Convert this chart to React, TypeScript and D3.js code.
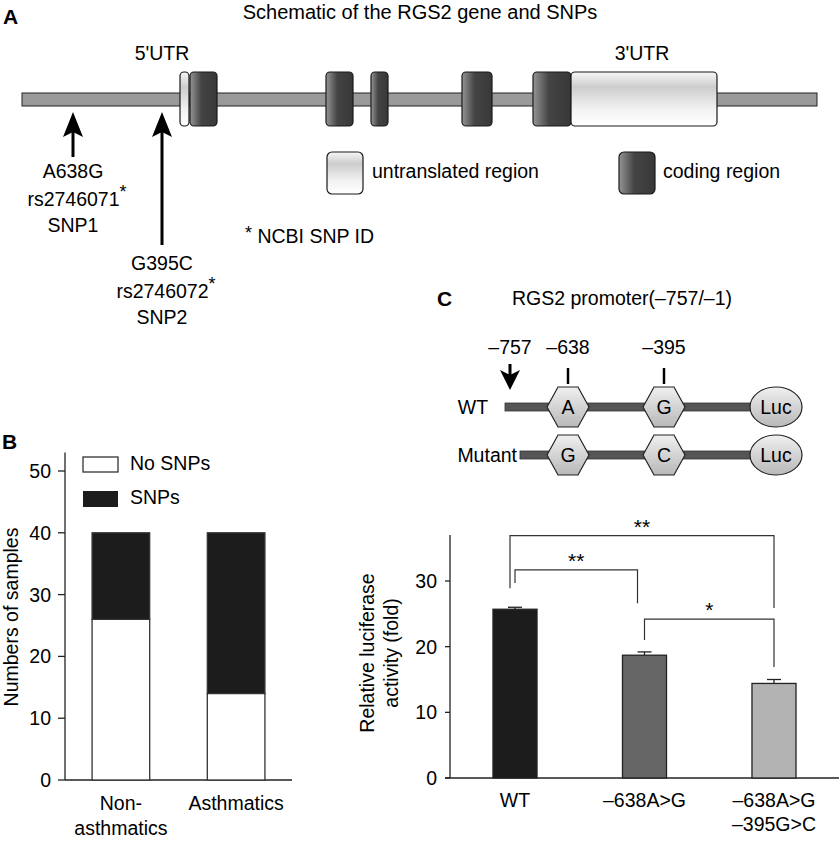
import * as d3 from "d3";

const FONT = "'Liberation Sans', Arial, Helvetica, sans-serif";
const FS = 19.5;

// ---- Panel A: gene schematic (relative positions along the gene)
const geneLength = 795;
const exonStarts = [158, 168, 304, 349, 440, 511, 549];
const exonEnds = [167, 195, 331, 366, 470, 549, 695];
const exonTypes = ["utr", "coding", "coding", "coding", "coding", "coding", "utr"];
const snpPositions = [51, 140];
const snpNames = ["A638G", "G395C"];
const snpIds = ["rs2746071", "rs2746072"];
const snpLabels = ["SNP1", "SNP2"];

// ---- Panel B: genotype counts
const groupsB = ["Non-asthmatics", "Asthmatics"];
const groupLabelsB = [["Non-", "asthmatics"], ["Asthmatics"]];
const noSnpCounts = [26, 14];
const snpCounts = [14, 26];

// ---- Panel C: promoter construct
const promoterMarks = [-757, -638, -395, -1];
const siteBp = [-638, -395];
const wtAlleles = ["A", "G"];
const mutAlleles = ["G", "C"];

// ---- Panel C: luciferase assay
const lucGroups = ["WT", "–638A>G", "–638A>G|–395G>C"];
const lucMeans = [25.7, 18.7, 14.4];
const lucErrors = [0.3, 0.5, 0.6];
const lucColors = ["#1c1c1c", "#666666", "#b3b3b3"];
const compFrom = [0, 0, 1];
const compTo = [2, 1, 2];
const compLevel = [36.9, 31.7, 24.2];
const compLeftEnd = [28.9, 29.7, 21.0];
const compRightEnd = [25.9, 26.6, 16.9];
const compLabels = ["**", "**", "*"];

function Arrow({ x, tip, tail }: { x: number; tip: number; tail: number }) {
  return (
    <g>
      <line x1={x} x2={x} y1={tip + 18} y2={tail} stroke="#000" strokeWidth={3} />
      <path
        d={`M${x},${tip} L${x + 10},${tip + 25} L${x},${tip + 20} L${x - 10},${tip + 25} Z`}
        fill="#000"
      />
    </g>
  );
}

function hexPath(cx: number, cy: number) {
  const pts: [number, number][] = [
    [cx - 21, cy],
    [cx - 10, cy - 20],
    [cx + 10, cy - 20],
    [cx + 21, cy],
    [cx + 10, cy + 20],
    [cx - 10, cy + 20],
  ];
  return d3.line()(pts.concat([pts[0]])) as string;
}

export default function App() {
  const W = 840;
  const H = 842;

  // Panel A scale
  const xG = d3.scaleLinear().domain([0, geneLength]).range([22, 817]);

  // Panel B scales
  const xB = d3.scaleBand().domain(groupsB).range([65, 292]).paddingInner(0.5).paddingOuter(0.235);
  const yB = d3.scaleLinear().domain([0, 50]).range([780, 471]);
  const stackB = d3
    .stack<any>()
    .keys(["none", "snp"])(groupsB.map((g, i) => ({ g, none: noSnpCounts[i], snp: snpCounts[i] })));

  // Panel C promoter scale (schematic, piecewise)
  const xP = d3.scaleLinear().domain(promoterMarks).range([510, 568, 664, 776]);

  // Panel C bar chart scales
  const xC = d3.scaleBand().domain(lucGroups).range([450, 839]).paddingInner(0.66).paddingOuter(0.332);
  const yC = d3.scaleLinear().domain([0, 30]).range([778, 581]);
  const cx = (i: number) => (xC(lucGroups[i]) as number) + xC.bandwidth() / 2;

  const rows = [
    { label: "WT", y: 407, alleles: wtAlleles, start: 505 },
    { label: "Mutant", y: 455, alleles: mutAlleles, start: 520 },
  ];

  return (
    <div style={{ position: "absolute", left: 0, top: 0 }}>
      <svg width={W} height={H} style={{ display: "block", background: "#fff" }} fontFamily={FONT}>
        <defs>
          <linearGradient id="coding" x1="0" x2="1" y1="0" y2="0">
            <stop offset="0" stopColor="#959595" />
            <stop offset="0.42" stopColor="#444" />
            <stop offset="1" stopColor="#383838" />
          </linearGradient>
          <linearGradient id="utr" x1="0" x2="0" y1="0" y2="1">
            <stop offset="0" stopColor="#f6f6f6" />
            <stop offset="0.28" stopColor="#cdcdcd" />
            <stop offset="0.7" stopColor="#f3f3f3" />
            <stop offset="1" stopColor="#ffffff" />
          </linearGradient>
          <linearGradient id="hex" x1="0" x2="0" y1="0" y2="1">
            <stop offset="0" stopColor="#f0f0f0" />
            <stop offset="1" stopColor="#b8b8b8" />
          </linearGradient>
        </defs>

        {/* ================= Panel A ================= */}
        <text x={3} y={24} fontSize={21} fontWeight="bold">A</text>
        <text x={420} y={19} fontSize={20} textAnchor="middle">Schematic of the RGS2 gene and SNPs</text>
        <text x={162} y={60} fontSize={FS} textAnchor="middle">5'UTR</text>
        <text x={642} y={60} fontSize={FS} textAnchor="middle">3'UTR</text>

        <rect x={xG(0)} y={93} width={xG(geneLength) - xG(0)} height={13} fill="#9a9a9a" stroke="#222" strokeWidth={1} />
        {exonStarts.map((s, i) => (
          <rect
            key={i}
            x={xG(s)}
            y={72}
            width={xG(exonEnds[i]) - xG(s)}
            height={54}
            rx={4}
            fill={exonTypes[i] === "utr" ? "url(#utr)" : "url(#coding)"}
            stroke="#1a1a1a"
            strokeWidth={1.2}
          />
        ))}

        {snpPositions.map((p, i) => {
          const x = xG(p);
          const tail = i === 0 ? 157 : 245;
          const base = i === 0 ? 178 : 270;
          return (
            <g key={i}>
              <Arrow x={x} tip={112} tail={tail} />
              <text x={x} y={base} fontSize={FS} textAnchor="middle">{snpNames[i]}</text>
              <text x={x + 4} y={base + 28} fontSize={FS} textAnchor="middle">
                {snpIds[i]}
                <tspan dy={-8} fontSize={18}>*</tspan>
              </text>
              <text x={x} y={base + 54} fontSize={FS} textAnchor="middle">{snpLabels[i]}</text>
            </g>
          );
        })}

        <text x={245} y={243} fontSize={FS}>
          <tspan dy={-4} fontSize={18}>*</tspan>
          <tspan dy={4}> NCBI SNP ID</tspan>
        </text>

        {/* legend */}
        <rect x={327} y={152} width={36} height={42} rx={5} fill="url(#utr)" stroke="#1a1a1a" strokeWidth={1.2} />
        <text x={372} y={178} fontSize={FS}>untranslated region</text>
        <rect x={619} y={152} width={36} height={42} rx={5} fill="url(#coding)" stroke="#1a1a1a" strokeWidth={1.2} />
        <text x={663} y={178} fontSize={FS}>coding region</text>

        {/* ================= Panel B ================= */}
        <text x={2} y={449} fontSize={21} fontWeight="bold">B</text>
        <line x1={65} x2={65} y1={yB(53)} y2={yB(0)} stroke="#222" strokeWidth={1.3} />
        <line x1={65} x2={292} y1={yB(0)} y2={yB(0)} stroke="#222" strokeWidth={1.3} />
        {yB.ticks(5).map((t) => (
          <g key={t}>
            <line x1={58} x2={65} y1={yB(t)} y2={yB(t)} stroke="#222" strokeWidth={1.3} />
            <text x={51} y={yB(t) + 7} fontSize={FS} textAnchor="end">{t}</text>
          </g>
        ))}
        <text transform={`translate(18,617) rotate(-90)`} fontSize={FS} textAnchor="middle">
          Numbers of samples
        </text>
        {stackB.map((layer, li) =>
          layer.map((d, i) => (
            <rect
              key={`${li}-${i}`}
              x={xB(groupsB[i])}
              y={yB(d[1])}
              width={xB.bandwidth()}
              height={yB(d[0]) - yB(d[1])}
              fill={li === 0 ? "#ffffff" : "#1c1c1c"}
              stroke="#333"
              strokeWidth={1.3}
            />
          ))
        )}
        {groupsB.map((g, i) =>
          groupLabelsB[i].map((line, j) => (
            <text
              key={`${g}-${j}`}
              x={(xB(g) as number) + xB.bandwidth() / 2}
              y={810 + j * 25}
              fontSize={FS}
              textAnchor="middle"
            >
              {line}
            </text>
          ))
        )}
        <rect x={83} y={457} width={35} height={15} fill="#fff" stroke="#333" strokeWidth={1.3} />
        <text x={130} y={470} fontSize={FS}>No SNPs</text>
        <rect x={83} y={491} width={35} height={16} fill="#1c1c1c" />
        <text x={130} y={504} fontSize={FS}>SNPs</text>

        {/* ================= Panel C (promoter) ================= */}
        <text x={437} y={306} fontSize={21} fontWeight="bold">C</text>
        <text x={622} y={305} fontSize={FS} textAnchor="middle">RGS2 promoter(–757/–1)</text>
        {promoterMarks.slice(0, 3).map((m) => (
          <text key={m} x={xP(m)} y={354} fontSize={FS} textAnchor="middle">{`–${Math.abs(m)}`}</text>
        ))}
        {siteBp.map((s) => (
          <line key={s} x1={xP(s)} x2={xP(s)} y1={368} y2={384} stroke="#000" strokeWidth={2.5} />
        ))}
        <line x1={xP(-757)} x2={xP(-757)} y1={364} y2={376} stroke="#000" strokeWidth={3} />
        <path
          d={`M${xP(-757)},390 L${xP(-757) + 10},370 L${xP(-757)},375 L${xP(-757) - 10},370 Z`}
          fill="#000"
        />
        {rows.map((r) => (
          <g key={r.label}>
            <text x={r.label === "WT" ? 473 : 517} y={r.y + 7} fontSize={FS} textAnchor={r.label === "WT" ? "middle" : "end"}>
              {r.label}
            </text>
            <rect x={r.start} y={r.y - 4} width={xP(-1) - r.start} height={8} fill="#555" stroke="#333" strokeWidth={0.8} />
            {siteBp.map((s, i) => (
              <g key={s}>
                <path d={hexPath(xP(s), r.y)} fill="url(#hex)" stroke="#222" strokeWidth={1.2} />
                <text x={xP(s)} y={r.y + 7} fontSize={FS} textAnchor="middle">{r.alleles[i]}</text>
              </g>
            ))}
            <ellipse cx={xP(-1)} cy={r.y} rx={26} ry={20} fill="url(#hex)" stroke="#222" strokeWidth={1.2} />
            <text x={xP(-1)} y={r.y + 7} fontSize={FS} textAnchor="middle">Luc</text>
          </g>
        ))}

        {/* ================= Panel C (bars) ================= */}
        <line x1={450} x2={450} y1={yC(37)} y2={yC(0)} stroke="#222" strokeWidth={1.3} />
        <line x1={445} x2={839} y1={yC(0)} y2={yC(0)} stroke="#222" strokeWidth={1.3} />
        {yC.ticks(3).map((t) => (
          <g key={t}>
            <line x1={445} x2={450} y1={yC(t)} y2={yC(t)} stroke="#222" strokeWidth={1.3} />
            <text x={437} y={yC(t) + 7} fontSize={FS} textAnchor="end">{t}</text>
          </g>
        ))}
        <text transform={`translate(374,653) rotate(-90)`} fontSize={FS} textAnchor="middle">
          Relative luciferase
        </text>
        <text transform={`translate(398,653) rotate(-90)`} fontSize={FS} textAnchor="middle">
          activity (fold)
        </text>
        {lucGroups.map((g, i) => (
          <g key={g}>
            <line x1={cx(i)} x2={cx(i)} y1={yC(lucMeans[i])} y2={yC(lucMeans[i] + lucErrors[i])} stroke="#222" strokeWidth={1.3} />
            <line x1={cx(i) - 7} x2={cx(i) + 7} y1={yC(lucMeans[i] + lucErrors[i])} y2={yC(lucMeans[i] + lucErrors[i])} stroke="#222" strokeWidth={1.3} />
            <rect
              x={xC(g)}
              y={yC(lucMeans[i])}
              width={xC.bandwidth()}
              height={yC(0) - yC(lucMeans[i])}
              fill={lucColors[i]}
              stroke="#222"
              strokeWidth={1.3}
            />
            {g.split("|").map((line, j) => (
              <text key={j} x={cx(i)} y={807 + j * 24} fontSize={FS} textAnchor="middle">{line}</text>
            ))}
          </g>
        ))}
        {compLabels.map((lab, k) => {
          const x1 = cx(compFrom[k]) + (compTo[k] - compFrom[k] > 1 ? -5 : 0);
          const x2 = cx(compTo[k]) + (k === 1 ? -7 : 0);
          const yl = yC(compLevel[k]);
          return (
            <g key={k}>
              <path
                d={`M${x1},${yC(compLeftEnd[k])} V${yl} H${x2} V${yC(compRightEnd[k])}`}
                fill="none"
                stroke="#333"
                strokeWidth={1.2}
              />
              <text x={(x1 + x2) / 2} y={yl - 2} fontSize={21} textAnchor="middle">{lab}</text>
            </g>
          );
        })}
      </svg>
    </div>
  );
}
